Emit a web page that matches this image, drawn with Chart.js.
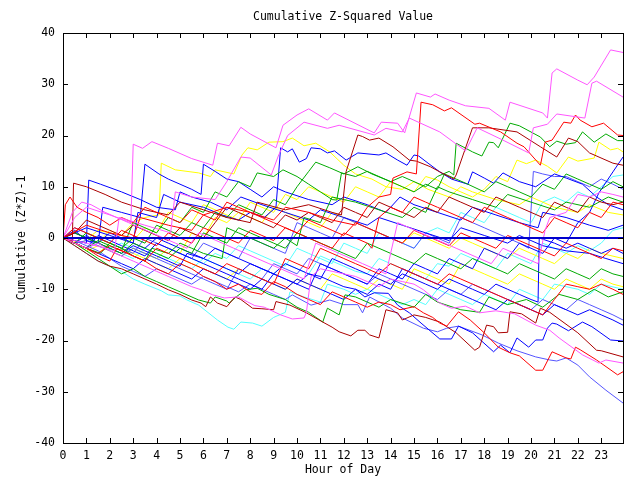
<!DOCTYPE html>
<html>
<head>
<meta charset="utf-8">
<script src="https://cdn.jsdelivr.net/npm/chart.js@4.4.1/dist/chart.umd.min.js"></script>
<style>
html, body { margin: 0; padding: 0; background: #fff; }
#wrap { width: 640px; height: 480px; }
</style>
</head>
<body>
<div id="wrap"><canvas id="zChart"></canvas></div>
<script>
// hour ticks and value ticks
const hourTicks = [0,1,2,3,4,5,6,7,8,9,10,11,12,13,14,15,16,17,18,19,20,21,22,23];
const valueTicks = [-40,-30,-20,-10,0,10,20,30,40];
const lastHour = 23.93;
const chartTitle = 'Cumulative Z-Squared Value';

// each run is [hour, cumulative (z*z)-1]
const zeroLine = [[0,0],[23.93,0]];
const magenta1 = [[0,0],[0.5,4],[1,6],[2,4.5],[2.9,3],[3.0,18.3],[3.4,17.5],[3.8,18.8],[4.5,17.5],[5.5,15.5],[6.4,14.2],[6.6,18.5],[7.1,18],[7.6,21.6],[8.0,20.3],[9.1,17.6],[9.4,22],[10.0,24],[10.5,25.2],[11.3,23],[11.6,24.4],[13.3,20.5],[13.6,22.6],[14.3,22.4],[14.6,20.5],[15.1,28.3],[15.7,27.5],[15.9,28.1],[16.5,26.9],[17.2,25.8],[18.2,25.3],[18.9,23],[19.1,26.5],[20.5,24.4],[20.7,23.4],[20.9,32.2],[21.1,33],[22,30.8],[22.4,29.9],[22.7,31.4],[23.4,36.7],[23.93,36.2]];
const magenta2 = [[0,0],[1,-1],[2.2,-2.5],[2.4,4],[3.5,2.5],[4.6,1],[4.8,9],[5.5,8],[6.5,7.5],[7.0,11],[7.6,15.8],[8,15.6],[8.9,12.3],[9.2,16],[9.6,20],[10.3,22.6],[11.3,21.4],[11.8,22],[13.3,20.1],[13.8,21.4],[14.5,20.7],[14.8,23.4],[16.1,20.7],[17.2,17],[17.7,21.5],[18.8,19.1],[19.9,16.6],[20.1,21.5],[20.7,22.2],[21.1,24.2],[22.3,23.4],[22.6,30.2],[22.8,30.6],[23.93,27.5]];
const magenta3 = [[0,0],[0.5,-1],[1,-2],[1.5,-1],[2,-2.5],[2.5,-3.5],[3,-4.5],[3.5,-5.5],[4,-6.5],[4.5,-7.5],[5,-8.5],[5.5,-9.5],[5.9,-10.1],[6.4,-11.1],[6.9,-11.7],[7.5,-11.5],[7.9,-12.5],[8.2,-13.2],[8.6,-13.5],[9.3,-15],[9.8,-15.8],[10.3,-15.6],[10.4,-14.5],[10.6,-7.5],[11,-6],[11.5,-6.5],[12,-7],[12.5,-7.5],[13,-8.5],[13.5,-9.5],[14,-8],[14.5,-8.5],[15,-9],[15.4,-10.1],[16.1,-12.7],[16.6,-13.7],[17.2,-13.3],[17.8,-14.6],[18.5,-14.2],[19.3,-14.8],[20.2,-17],[20.8,-18],[21.2,-19.5],[22.2,-22.8],[22.9,-24.4],[23.2,-23.8],[23.93,-24.4]];
const magenta4 = [[0,0],[0.4,5],[0.8,7],[1.2,6.5],[1.8,5],[2.3,4],[2.8,3],[3.3,2],[3.8,1],[4.3,0],[4.8,-1],[5.3,-2],[5.8,1],[6.3,0],[6.8,-1],[7.3,-2],[7.8,-3],[8.3,-4],[8.8,-5],[9.3,-6],[9.8,-7],[10.3,-8],[10.8,-1],[11.3,-2],[11.8,-3],[12.3,-4],[12.8,-5],[13.3,-6],[13.8,-7],[14.3,3],[14.8,2],[15.3,1],[15.8,0],[16.3,-1],[16.8,-2],[17.3,-3],[17.8,-4],[18.3,-5],[18.8,-2],[19.3,-3],[19.8,-4],[20.3,-5],[20.6,1.5],[20.8,4],[21.5,5],[22,8.5],[22.5,8],[23,9],[23.5,8.5],[23.93,8]];
const red1 = [[0,0],[1,2.5],[2,1],[3,0],[3.3,4],[4.5,2.5],[5.5,1.5],[6,4.5],[7,6],[8,5],[9,3.5],[9.5,6],[10.5,5],[11.5,3.5],[12.5,2.5],[13,6],[13.5,8],[14,8.5],[14.1,11.7],[14.7,12.9],[15.1,12.5],[15.3,26.5],[15.8,26],[16.3,24.8],[16.6,25.4],[17.6,22.2],[17.8,22.4],[18.7,20.7],[19.4,18.5],[19.7,17.8],[20.4,14.2],[20.6,18.7],[20.9,19.1],[21.4,22.6],[21.7,22.4],[21.9,24],[22.1,23],[22.6,21.7],[23.1,22.4],[23.7,20.1],[23.93,20]];
const red2 = [[0,0],[0.5,-1],[1,-2],[1.5,-3.5],[2,-4.5],[2.3,-2],[3,-3.5],[3.5,-4.5],[4,-6],[4.5,-7],[5,-5],[5.5,-6],[6,-7.5],[6.5,-8.5],[7,-10],[7.5,-9],[8,-10.5],[8.5,-11],[9,-8.5],[9.5,-9.5],[10,-11],[10.5,-12],[11,-13],[11.5,-10.5],[12,-11.5],[12.5,-12.5],[13,-13.5],[13.5,-12.5],[14,-13],[14.4,-14],[15,-13.4],[15.4,-14.6],[15.8,-15.5],[16.1,-16.6],[16.4,-17.2],[16.9,-14.4],[17.4,-16],[18,-18.5],[18.6,-21.3],[19.1,-22.4],[19.5,-23],[20.2,-25.8],[20.5,-25.8],[20.9,-22.2],[21.5,-23.4],[21.7,-23.6],[21.9,-21.3],[22.1,-21.8],[22.8,-23.8],[23.7,-26.7],[23.93,-26.1]];
const red3 = [[0,0],[0.1,6.5],[0.3,8],[0.6,6],[1,5],[1.5,4],[2,2.5],[2.5,4],[3,3],[3.5,6],[4,5],[4.5,4],[5,3],[5.5,5.5],[6,4.5],[6.5,3.5],[7,7],[7.5,6],[8,5],[8.5,4],[9,3],[9.5,2],[10,1],[10.5,3.5],[11,2.5],[11.5,1.5],[12,0.5],[12.5,3],[13,2],[13.5,1],[14,0],[14.5,-1],[15,1.5],[15.5,0.5],[16,-0.5],[16.5,-1.5],[17,1],[17.5,0],[18,-1],[18.5,-2],[19,0.5],[19.5,-0.5],[20,-1.5],[20.5,-2.5],[21,-3.5],[21.5,-1],[22,-2],[22.5,-3],[23,-4],[23.5,-2],[23.93,-2.5]];
const red4 = [[0,0],[0.5,2],[1,1],[1.5,0],[2,-1],[2.5,1.5],[3,0.5],[3.5,-0.5],[4,-1.5],[4.5,1],[5,0],[5.5,-1],[6,2],[6.5,1],[7,0],[7.5,-1],[8,1.5],[8.5,0.5],[9,-0.5],[9.5,2],[10,1],[10.5,0],[11,-1],[11.5,-2],[12,1],[12.5,0],[13,-1],[13.2,-2],[13.5,4],[14,6],[14.5,5],[15,8],[15.5,7],[16,6],[16.5,5],[17,4],[17.5,3],[18,6],[18.5,5],[19,4],[19.5,3],[20,2],[20.5,1],[21,4],[21.5,3],[22,2],[22.5,5],[23,4],[23.5,7],[23.93,6.5]];
const red5 = [[0,0],[0.5,-1],[1,-2],[1.5,-3],[2,-1.5],[2.5,-2.5],[3,-3.5],[3.5,-4.5],[4,-2],[4.5,-3],[5,-4],[5.5,-5],[6,-6],[6.5,-7],[7,-5],[7.5,-6],[8,-7],[8.5,-8],[9,-9],[9.5,-4],[10,-5],[10.5,-6],[11,-2],[11.5,-3],[12,-4],[12.5,-5],[13,-6],[13.5,-7],[14,-5],[14.5,-6],[15,-7],[15.5,-8],[16,-9],[16.5,-7],[17,-8],[17.5,-9],[18,-10],[18.5,-11],[19,-12],[19.5,-13],[20,-14],[20.5,-15],[21,-12],[21.5,-9],[22,-9.5],[22.5,-10],[23,-9],[23.5,-10],[23.93,-11]];
const darkRed1 = [[0,0],[0.4,-0.5],[0.45,10.7],[1,10],[1.8,8.5],[2.5,7],[3.5,5.5],[4.5,4.5],[5,7],[6,5.5],[7,4],[8,3],[8.3,7],[9.5,5.5],[10.5,6.5],[11.5,5],[11.9,4.5],[12.1,13],[12.6,20.1],[12.8,19.8],[13.1,19.1],[13.5,19.5],[14.1,17.8],[14.8,15.2],[15.1,15],[15.7,13.9],[16.1,12.9],[16.7,11.5],[16.8,12.3],[17.5,21.5],[18.2,21.5],[19.4,20.7],[20.4,17.8],[21.1,15.8],[21.6,19.5],[22,18.8],[22.5,16.6],[23.5,14.6],[23.93,14.2]];
const darkRed2 = [[0,0],[0.5,-1.5],[1,-3],[1.5,-4.5],[2,-5.5],[2.5,-6],[3,-7],[3.5,-8],[4,-9],[4.5,-10.1],[5,-11],[5.5,-12.1],[5.9,-12.7],[6.1,-13.4],[6.3,-11.5],[6.6,-12.7],[7,-13.4],[7.35,-11.5],[7.6,-12],[8.1,-13.7],[8.5,-13.8],[9,-14],[9.1,-12.4],[9.7,-13.1],[10.4,-14.6],[11.1,-16.4],[11.5,-17.4],[11.8,-18.3],[12.3,-19.1],[12.6,-18],[12.9,-18],[13.1,-18.9],[13.5,-19.5],[13.8,-14],[14.3,-14.6],[14.5,-16],[15,-15],[15.5,-15.5],[16.1,-16.4],[16.8,-18.5],[17.6,-21.9],[17.8,-21.3],[18.1,-17],[18.4,-17.3],[18.6,-18.5],[19,-18.4],[19.1,-14.4],[19.6,-14.8],[20.2,-16.6],[20.4,-13.7],[20.8,-14.5],[22,-18.5],[22.8,-21.9],[23,-22],[23.93,-23.2]];
const darkRed3 = [[0,0],[0.5,1],[1,3.5],[1.5,2.5],[2,1.5],[2.5,0.5],[3,2.5],[3.5,1.5],[4,0.5],[4.5,-0.5],[5,2],[5.5,1],[6,0],[6.5,3],[7,6],[7.5,5],[8,4],[8.5,3],[9,2],[9.5,4.5],[10,3.5],[10.5,5],[11,4],[11.5,3],[12,6],[12.5,5],[13,4],[13.5,7],[14,6],[14.5,5],[15,4],[15.5,6],[16,5],[16.5,8],[17,7],[17.5,6],[18,5],[18.5,8],[19,7],[19.5,6],[20,5],[20.5,4],[21,7],[21.5,6],[22,5],[22.5,8],[23,7],[23.5,6.5],[23.93,7]];
const green1 = [[0,0],[0.5,-1],[1,1],[1.5,0],[2,-1],[2.5,-2],[3,0],[3.5,-1],[4,2.5],[4.5,1.5],[5,0.5],[5.5,3],[6,2],[6.5,5],[7,4],[7.5,6.5],[8,5.5],[8.5,4.5],[9,7.5],[9.5,6.5],[10,10],[10.5,13],[10.8,14.8],[11.4,13.7],[12,12.5],[12.6,13.9],[13.2,12.5],[14,11],[14.5,12],[15,11],[15.5,10],[16,12],[16.5,13],[16.7,12.3],[16.8,18.5],[17.5,16.8],[17.9,16],[18.2,18.7],[18.4,18.6],[18.6,17.6],[19.1,22.4],[19.5,21.9],[20.4,19.7],[20.8,17.8],[21.1,18.9],[21.5,18.3],[21.9,18.6],[22.2,20.7],[22.7,18.7],[23.2,20.3],[23.7,19],[23.93,19]];
const green2 = [[0,0],[0.5,-1],[1,-2],[1.6,-3],[2,-1],[2.5,-2],[3,-3.5],[3.5,-4.5],[3.8,-2],[4.5,-3],[5,-1],[5.5,-2],[6,-3],[6.8,-4],[7,2],[7.5,1],[8,0],[8.5,-1],[9,-2],[9.5,0],[10,-1.5],[10.3,4],[11,3],[11.5,8],[12.5,7],[13.5,5.5],[14.5,4],[15,6],[15.5,5],[16,10],[16.5,9],[17.5,7.5],[18.5,6],[19,8.5],[20,7],[21,5.5],[21.5,7],[22.5,6],[23.3,8],[23.93,7]];
const green3 = [[0,0],[0.5,-1],[1,-2.5],[1.5,-4],[2,-5.5],[2.5,-7],[3,-6],[3.5,-7.5],[4,-8.5],[4.5,-9.5],[5,-10.5],[5.8,-12.1],[6.3,-12.7],[6.5,-11.5],[7,-12.3],[7.1,-12.7],[7.4,-11.5],[7.8,-10.1],[8.3,-9.8],[8.8,-11],[9.5,-12],[10,-13.5],[10.5,-14.5],[11.1,-16.4],[11.3,-13.7],[11.8,-15],[12.05,-11.1],[12.5,-11.5],[13,-12.5],[13.5,-13.5],[14,-12],[15,-13.5],[15.5,-11],[16,-12.5],[17,-14],[17.8,-14.5],[18.2,-11.5],[19,-13],[19.8,-12],[20.5,-13.5],[21.2,-11],[22,-12],[22.7,-10],[23.3,-11.5],[23.93,-10.5]];
const green4 = [[0,0],[0.5,1],[1,0],[1.5,-1],[2,-2],[2.5,-3],[3,-1],[3.5,-2],[4,-3],[4.5,-4],[5,-2],[5.5,-3],[6,1],[6.5,0],[7,-1],[7.5,2],[8,1],[8.5,0],[9,-1],[9.5,-2],[10,1],[10.5,0],[11,-1],[11.5,-2],[12,-3],[12.5,-4],[13,-1],[13.5,-2],[14,-3],[14.5,-4],[15,-5],[15.5,-3],[16,-4],[16.5,-5],[17,-6],[17.5,-4],[18,-5],[18.5,-6],[19,-7],[19.5,-5],[20,-6],[20.5,-7],[21,-8],[21.5,-6],[22,-7],[22.5,-8],[23,-6],[23.5,-7],[23.93,-7.5]];
const green5 = [[0,0],[0.5,-1],[1,-2],[1.5,-0.5],[2,-1.5],[2.5,-2.5],[3,3],[3.5,2],[4,1],[4.5,4],[5,3],[5.5,6],[6,5],[6.5,9],[7,8],[7.5,11],[8,10],[8.3,12.7],[9,12],[9.4,13.3],[10,12],[10.5,10.5],[11,9],[11.5,7.5],[11.7,7.4],[11.9,12.7],[12.5,12],[13,13],[13.5,12],[14,11],[14.5,10],[15,9],[15.5,10.5],[16,9.5],[16.3,12.5],[16.8,11.5],[17.3,10.5],[18,9],[18.5,11],[19,10],[19.5,9],[20,8],[20.5,10.5],[21,9.5],[21.5,12.5],[22,11.5],[22.5,10.5],[23,9.5],[23.5,11],[23.93,10]];
const blue1 = [[0,0],[0.5,-1],[1,-2],[1.5,0.5],[2,-0.5],[2.5,-1.5],[3,-2.5],[3.5,-3.5],[4,-1],[4.5,-2],[5,-3],[5.5,-4],[6,-5],[6.5,-6],[7,-7],[7.5,-8],[8,-9],[8.5,-10],[9,-7],[9.5,-8],[10,-9],[10.5,-10],[11,-5],[11.5,-6],[12,-7],[12.5,-8],[13,-9],[13.5,-6],[14,-7],[14.5,-8],[15,-5],[15.5,-6],[16,-7],[16.5,-4],[17,-5],[17.5,-6],[18,-2],[18.5,-3],[19,-4],[19.5,-1],[20,-2],[20.5,-3],[21,0],[21.5,-1],[22,3],[22.5,5],[22.9,8.8],[23.5,12.9],[23.93,15.8]];
const blue2 = [[0,0],[0.5,-1],[1,0.5],[1.5,-1],[2,-2],[2.5,-3],[3,-1.5],[3.5,-2.5],[4,-3.5],[4.5,-4.5],[5,-5.5],[5.3,-3],[6,-4],[6.5,-5],[7,-6],[7.5,-7],[8,-5],[8.5,-6],[9,-7],[9.5,-8],[10,-9],[10.5,-7],[11,-7.5],[11.5,-8.5],[12,-9.5],[12.5,-10],[12.9,-11.5],[13.3,-10.7],[13.9,-10.8],[14.3,-13.1],[14.8,-14.6],[15.3,-16.6],[16.1,-19.7],[16.6,-19.7],[16.9,-17.2],[17.5,-18.5],[18.4,-22.2],[18.7,-20.9],[19.1,-22.4],[19.4,-19.5],[19.9,-21.3],[20.2,-19.9],[20.5,-19.9],[20.7,-17.6],[20.9,-16.6],[21.1,-16.8],[21.6,-18.1],[22.2,-16.4],[22.6,-17.3],[23.4,-19.9],[23.93,-20.1]];
const blue3 = [[0,0],[1,2],[2,0.5],[3,-1],[3.2,5],[4,4],[4.3,8.5],[5,7],[6,6],[6.8,4.5],[7.5,3.5],[8,5],[8.6,4],[9.1,6],[9.3,17.6],[9.6,16.8],[9.8,17.4],[10.1,14.8],[10.4,15.5],[10.6,17.6],[11,17.4],[11.3,16.6],[11.6,17],[12.1,15.2],[12.6,16.6],[13.5,16.2],[13.8,16.6],[14.3,15.2],[14.7,14.2],[15,16.2],[15.2,16],[15.6,14.6],[16.1,12.9],[16.6,11.5],[17.3,10.5],[17.5,12.9],[18,11.7],[18.4,10.7],[18.8,12.7],[19.5,11],[20.2,10],[21,12.5],[21.5,11.7],[22.2,10.5],[22.8,8],[23.3,6.5],[23.93,5.5]];
const blue4 = [[0,0],[0.5,1.5],[1,-0.5],[1.5,-1],[1.7,6],[2.5,5],[3.3,4],[3.5,14.4],[4.1,12.5],[4.5,11.5],[5,10.5],[5.5,9.5],[5.9,8.5],[6.0,14.4],[6.5,13],[7,11.5],[7.5,11],[8,9.5],[8.5,8],[9,10],[9.5,9],[10.5,7.5],[11.5,6.5],[12,8],[13,6.5],[13.8,5],[14.4,8],[15,6.5],[16,5],[17,3.5],[17.5,6],[18.5,4.5],[19.5,3],[20.3,2],[20.5,5],[21.5,4],[22.5,2.5],[23.3,1.5],[23.93,2.5]];
const blue5 = [[0,0],[0.5,-0.5],[1.0,-1],[1.1,11.3],[1.6,10.5],[2.5,9],[3.3,7.5],[4,6],[4.8,5.5],[5,9],[5.5,8],[6.3,7],[7,5.5],[7.6,8],[8.5,6.5],[9.5,5],[10.5,3.5],[11,5.5],[12,4],[13,2.5],[13.5,4],[14.5,2.5],[15.5,1],[16.5,-0.5],[17,2],[18,0.5],[19,-1],[19.5,0.5],[20.5,-1.5],[21.5,-2.5],[22.5,-3],[23.2,-4],[23.93,-5]];
const blue6 = [[0,0],[0.5,-1],[1,-2],[1.5,-3],[2,-4],[2.5,-5],[3,-6],[3.5,-4],[4,-5],[4.5,-6],[5,-7],[5.5,-8],[6,-6],[6.5,-7],[7,-8],[7.5,-9],[8,-10],[8.5,-8],[9,-9],[9.5,-10],[10,-8],[10.5,-9],[11,-10],[11.5,-11],[12,-12],[12.5,-10],[13,-11],[13.5,-9],[14,-10],[14.5,-6],[15,-7],[15.5,-8],[16,-9],[16.5,-10],[17,-11],[17.5,-12],[18,-13],[18.5,-14],[19,-12],[19.5,-13],[20,-14],[20.5,-15],[21,-13],[21.5,-14],[22,-15],[22.5,-14],[23,-15],[23.5,-16],[23.93,-17]];
const blue7 = [[0,0],[0.5,1],[1,0],[1.5,-1],[2,1],[2.5,0],[3,-1],[3.5,-2],[4,0],[4.5,-1],[5,-2],[5.5,-3],[6,-4],[6.5,-2],[7,-3],[7.5,-4],[8,-5],[8.5,-6],[9,-7],[9.5,-5],[10,-6],[10.5,-7],[11,-8],[11.5,-4],[12,-5],[12.5,-6],[13,-7],[13.5,-8],[14,-9],[14.5,-7],[15,-8],[15.5,-9],[16,-10],[16.5,-8],[17,-9],[17.5,-10],[18,-11],[18.5,-9],[19,-10],[19.5,-11],[20,-12],[20.3,-12.5],[20.35,0],[21,-1],[21.5,-2],[22,-1],[22.5,-2],[23,-3],[23.5,-2],[23.93,-3]];
const lightBlue1 = [[0,0],[0.5,-0.5],[1,-1.5],[1.5,-2.5],[2,-4],[2.5,-5.5],[3,-6.5],[3.5,-7.5],[4,-6],[4.5,-7],[5,-8],[5.5,-9],[6,-7.5],[6.5,-8.5],[7,-9.5],[7.5,-10.5],[8,-9],[8.5,-10],[9,-11],[9.5,-12],[9.8,-11.1],[10.6,-13.1],[11.4,-12.1],[12,-13],[12.6,-13],[12.8,-14.6],[13.1,-11.5],[14,-13.7],[14.5,-15.6],[15.4,-17.6],[16,-18.3],[16.4,-17.6],[16.9,-17.2],[17.9,-18.9],[18.6,-20.5],[19.4,-22],[20.2,-23.2],[20.8,-23.8],[21.1,-24],[21.5,-23.4],[22,-24.8],[22.5,-27.1],[23.2,-29.7],[23.93,-32.2]];
const lightBlue2 = [[0,0],[0.5,-1],[1,-0.5],[1.5,-1.5],[2,-2.5],[2.5,-3.5],[3,-2],[3.5,-3],[4,-4],[4.5,-5],[5,-6],[5.5,-7],[6,-8],[6.5,-9],[7,-10],[7.5,-6],[8,-7],[8.5,-8],[9,-5],[9.5,-6],[10,-7],[10.5,-4],[11,-5],[11.5,-6],[12,-7],[12.5,-8],[13,-9],[13.5,-7],[14,-8],[14.5,-9],[15,-10],[15.5,-11],[16,-12],[16.5,-10],[17,-11],[17.5,-9],[18,-10],[18.5,-11],[19,-12],[19.5,-13],[20,-14],[20.5,-12],[21,-13],[21.5,-14],[22,-12],[22.5,-13],[23,-14],[23.5,-15],[23.93,-16]];
const lightBlue3 = [[0,0],[0.5,2],[1,1],[1.5,0],[2,-1],[2.5,-2],[3,-3],[3.5,0],[4,-1],[4.5,-2],[5,-3],[5.5,-4],[6,-1],[6.5,-2],[7,-3],[7.5,-4],[8,0],[8.5,-1],[9,-2],[9.5,-3],[10,3],[10.5,2],[11,1],[11.5,0],[12,4],[12.5,3],[13,2],[13.5,1],[14,0],[14.5,-1],[15,-2],[15.5,1],[16,0],[16.5,-1],[17,4],[17.5,3],[18,2],[18.5,1],[19,0],[19.5,-1],[19.9,-2],[20.1,13],[20.5,12.5],[21,12],[21.5,12],[22,11],[22.5,10],[23,11.5],[23.5,10.5],[23.93,9.5]];
const yellow1 = [[0,0],[0.5,1],[1,0],[1.5,-1],[2,1.5],[2.5,0.5],[3,-0.5],[3.5,2],[4,1],[4.5,5],[5,4],[5.5,3],[6,6.5],[6.5,5.5],[7,4.5],[7.5,3.5],[8,7],[8.5,6],[9,5],[9.5,8.5],[10,7.5],[10.5,10],[11,9],[11.5,8],[12,7],[12.5,10],[13,9],[13.5,8],[14,11],[14.5,10],[15,9],[15.5,12],[16,11.3],[16.5,10],[17,9],[17.5,8],[18,9.5],[18.5,12],[19,11],[19.4,15.2],[19.8,14.5],[20.2,15.2],[20.7,14],[21.1,12.7],[21.6,15.8],[22,15],[22.7,15.6],[22.9,18.7],[23.4,17.2],[23.7,17.5],[23.93,16.8]];
const yellow2 = [[0,0],[0.8,-1],[1.5,1.5],[2.5,0.5],[3,3],[3.5,4],[4.1,4.5],[4.2,14.6],[4.8,13.3],[5.8,12.7],[6.3,12],[6.5,13.3],[7.3,12.5],[7.65,16.2],[7.9,17.6],[8.3,17.2],[8.8,18.7],[9.4,18.8],[9.8,19.5],[10.3,18],[10.8,18.5],[11.4,16.8],[12,14.2],[12.5,12.5],[13.2,11.5],[13.8,10],[14.5,9.5],[15,11],[15.6,9.5],[16.5,8],[17,10],[17.5,9],[18.5,7.5],[19.5,6.5],[20,8],[21,6],[22,5],[22.5,6.5],[23.3,5],[23.93,4.5]];
const yellow3 = [[0,0],[0.5,-1],[1,-2.5],[1.5,-1.5],[2,-2.5],[2.5,-3.5],[3,-2],[3.5,-3],[4,-4],[4.5,-2],[5,-3],[5.5,1],[6,0],[6.5,4],[7,3],[7.5,5],[8,4],[8.5,3],[9,6],[9.5,5],[10,4],[10.5,3],[11,2],[11.5,5],[12,4],[12.5,3],[13,2],[13.5,1],[14,0],[14.5,-1],[15,1],[15.5,0],[16,-1],[16.5,-2],[17,0],[17.5,-1],[18,-2],[18.5,-3],[19,-4],[19.5,-2],[20,-3],[20.5,-4],[21,-5],[21.5,-3],[22,-4],[22.5,-2],[23,-3],[23.93,-4]];
const yellow4 = [[0,0],[0.5,-1],[1,-2],[1.5,-3],[2,-1],[2.5,-2],[3,-3],[3.5,-4],[4,-5],[4.5,-6],[5,-4],[5.5,-5],[6,-6],[6.5,-7],[7,-8],[7.5,-6],[8,-7],[8.5,-8],[9,-9],[9.5,-10],[10,-8],[10.5,-9],[11,-10],[11.5,-7],[12,-8],[12.5,-9],[13,-10],[13.5,-8],[14,-9],[14.5,-10],[15,-6],[15.5,-7],[16,-8],[16.5,-9],[17,-5],[17.5,-6],[18,-7],[18.5,-8],[19,-9],[19.5,-7],[20,-8],[20.5,-9],[21,-10],[21.5,-8],[22,-9],[22.5,-10],[23,-8],[23.5,-9],[23.93,-9.5]];
const cyan1 = [[0,0],[0.5,-1.5],[1,-3],[1.5,-4.5],[2,-5.5],[2.5,-6.5],[3,-8],[3.5,-9],[4.2,-10.3],[4.5,-11.1],[5,-11.3],[5.3,-12.1],[5.8,-13.1],[6.6,-16],[7.05,-17.4],[7.3,-17.8],[7.6,-16.4],[8.1,-16.6],[8.5,-17.2],[9,-15.5],[9.5,-14.5],[9.7,-10.5],[10.3,-11.5],[11,-12.5],[11.3,-9],[12,-10],[12.5,-11],[13,-10],[13.5,-11],[14,-12],[14.5,-13],[15,-12],[15.5,-13],[16,-10],[16.5,-11],[17,-12],[17.5,-13],[18,-11],[18.5,-12],[19,-13],[19.5,-10],[20,-11],[20.5,-12],[21,-9],[22,-10],[22.5,-11],[23,-9],[23.93,-10]];
const cyan2 = [[0,0],[0.5,-1],[1,-2],[1.5,-1],[2,-2],[2.5,-3],[3,-4],[3.5,-2],[4,-3],[4.5,-4],[5,-5],[5.5,-6],[6,-4],[6.5,-5],[7,-6],[7.5,-7],[8,-8],[8.5,-6],[9,-7],[9.5,-5],[10,-6],[10.5,-7],[11,-3.5],[11.5,-4.5],[12,-5.5],[12.5,-6.5],[13,-7],[13.5,-4],[14,-5],[14.5,-6],[15,-7],[15.5,-8],[16,-5],[16.5,-5.5],[17,-3],[17.5,-4],[18,-5],[18.5,-6],[19,-3],[19.5,-4],[20,-5],[20.5,-1],[21,-2],[21.5,-3],[22,-1.5],[22.5,-2.5],[23,-1],[23.5,1.5],[23.93,2]];
const cyan3 = [[0,0],[0.5,1],[1,0],[1.5,-1],[2,-2],[2.5,-1],[3,-2],[3.5,-3],[4,-4],[4.5,-2],[5,-3],[5.5,-4],[6,-5],[6.5,-3],[7,-4],[7.5,-1.5],[8,-2.5],[8.5,-3.5],[9,-4.5],[9.5,-5.5],[10,-2],[10.5,-3],[11,-4],[11.5,-5],[12,-1],[12.5,-2],[13,-3],[13.5,1],[14,0],[14.5,-1],[15,-2],[15.5,1],[16,2],[16.5,1],[17,5],[17.5,4],[18,3],[18.5,6],[19,5],[19.5,4],[20,3],[20.5,7],[21,8],[21.5,7],[22,9],[22.5,8],[23,10],[23.5,12],[23.93,12.3]];

const colours = {
  magenta: '#ff55ff', red: '#ff0000', darkRed: '#aa0000', green: '#00aa00',
  blue: '#0000ff', lightBlue: '#5555ff', yellow: '#ffff00', cyan: '#55ffff', zero: '#0000cc'
};

const runs = [
  [zeroLine, colours.zero, 2],
  [magenta1, colours.magenta], [magenta2, colours.magenta], [magenta3, colours.magenta], [magenta4, colours.magenta],
  [red1, colours.red], [red2, colours.red], [red3, colours.red], [red4, colours.red], [red5, colours.red],
  [darkRed1, colours.darkRed], [darkRed2, colours.darkRed], [darkRed3, colours.darkRed],
  [green1, colours.green], [green2, colours.green], [green3, colours.green], [green4, colours.green], [green5, colours.green],
  [blue1, colours.blue], [blue2, colours.blue], [blue3, colours.blue], [blue4, colours.blue], [blue5, colours.blue], [blue6, colours.blue], [blue7, colours.blue],
  [lightBlue1, colours.lightBlue], [lightBlue2, colours.lightBlue], [lightBlue3, colours.lightBlue],
  [yellow1, colours.yellow], [yellow2, colours.yellow], [yellow3, colours.yellow], [yellow4, colours.yellow],
  [cyan1, colours.cyan], [cyan2, colours.cyan], [cyan3, colours.cyan]
];

const datasets = runs.map(([pts, col, w]) => ({
  data: pts.map(p => ({ x: p[0], y: p[1] })),
  borderColor: col,
  backgroundColor: col,
  borderWidth: w || 1,
  pointRadius: 0,
  tension: 0,
  fill: false
}));

Chart.defaults.font.family = "'DejaVu Sans Mono', monospace";
Chart.defaults.font.size = 11.5;
Chart.defaults.color = '#000';

// gnuplot style frame with inward ticks, title centred over the plot
const frameTicks = {
  id: 'frameTicks',
  afterDatasetsDraw(chart) {
    const { ctx, chartArea: a, scales } = chart;
    ctx.save();
    ctx.strokeStyle = '#000';
    ctx.lineWidth = 1;
    ctx.beginPath();
    hourTicks.forEach(h => {
      const x = Math.round(scales.x.getPixelForValue(h)) + 0.5;
      ctx.moveTo(x, a.bottom); ctx.lineTo(x, a.bottom - 5);
      ctx.moveTo(x, a.top); ctx.lineTo(x, a.top + 5);
    });
    valueTicks.forEach(v => {
      const y = Math.round(scales.y.getPixelForValue(v)) + 0.5;
      ctx.moveTo(a.left, y); ctx.lineTo(a.left + 5, y);
      ctx.moveTo(a.right, y); ctx.lineTo(a.right - 5, y);
    });
    ctx.stroke();
    ctx.strokeRect(Math.round(a.left) + 0.5, Math.round(a.top) + 0.5,
      Math.round(a.right - a.left), Math.round(a.bottom - a.top));
    ctx.fillStyle = '#000';
    ctx.font = "11.5px 'DejaVu Sans Mono', monospace";
    ctx.textAlign = 'center';
    ctx.textBaseline = 'middle';
    ctx.fillText(chartTitle, (a.left + a.right) / 2, 17);
    ctx.restore();
  }
};

new Chart(document.getElementById('zChart'), {
  type: 'line',
  data: { datasets },
  plugins: [frameTicks],
  options: {
    responsive: true,
    maintainAspectRatio: false,
    animation: false,
    layout: { padding: { left: 0, right: 17, top: 33, bottom: 0 } },
    plugins: {
      legend: { display: false },
      tooltip: { enabled: false },
      title: { display: false }
    },
    scales: {
      x: {
        type: 'linear',
        min: 0,
        max: lastHour,
        afterFit: s => { s.height = 37; },
        grid: { display: false, drawTicks: false },
        border: { display: false },
        ticks: { stepSize: 1, includeBounds: false, autoSkip: false, maxRotation: 0, padding: 6 },
        title: { display: true, text: 'Hour of Day', padding: { top: 0, bottom: 3 } }
      },
      y: {
        min: -40,
        max: 40,
        afterFit: s => { s.width = 63; },
        grid: { display: false, drawTicks: false },
        border: { display: false },
        ticks: { stepSize: 10, padding: 8 },
        title: { display: true, text: 'Cumulative (Z*Z)-1', padding: { top: 15, bottom: 0 } }
      }
    }
  }
});
</script>
</body>
</html>
